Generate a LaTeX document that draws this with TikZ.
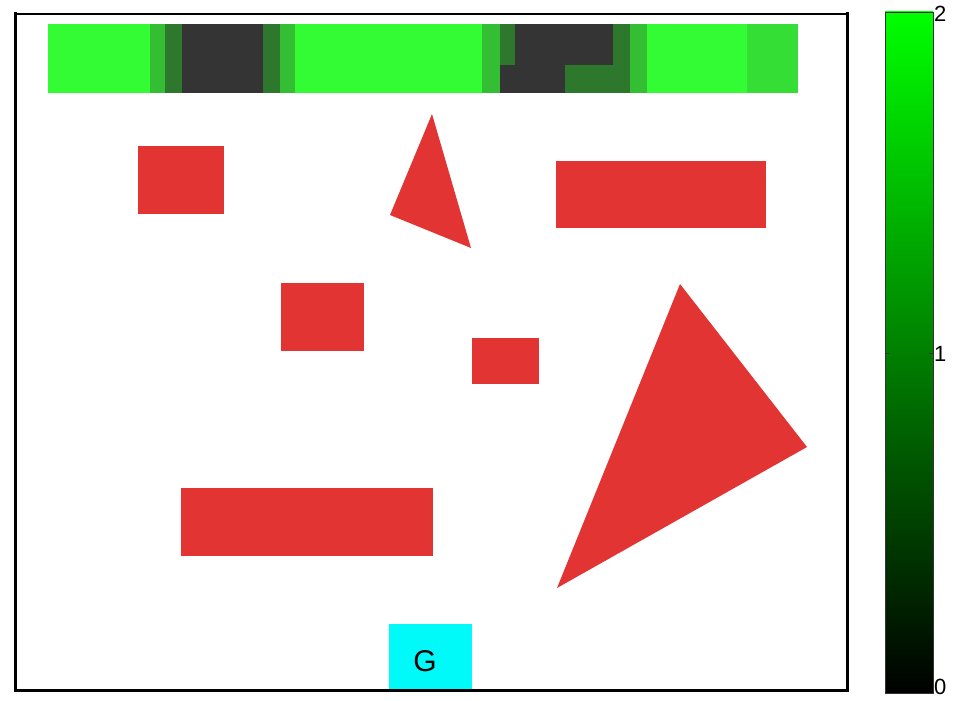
\documentclass[tikz,border=0pt]{standalone}
\usepackage{fontspec}
\setmainfont{Liberation Sans}
\usepackage{xcolor}
\usepackage{tikz}

\definecolor{obsred}{RGB}{227,52,52}
\definecolor{cellhi}{RGB}{52,252,52}
\definecolor{cellhb}{RGB}{52,222,52}
\definecolor{cellmid}{RGB}{52,190,52}
\definecolor{celllo}{RGB}{46,120,46}
\definecolor{cellnil}{RGB}{52,52,52}
\definecolor{goalcyan}{RGB}{0,250,250}

\begin{document}
\begin{tikzpicture}[x=1pt, y=-1pt, every node/.style={font=\fontsize{22}{25}\selectfont}]
    \useasboundingbox (0,0) rectangle (961,701);
    \fill[white] (0,0) rectangle (961,701);
    % heat row along the top
    \foreach \xa/\xb/\c in {48/150/cellhi, 150/165/cellmid, 165/182/celllo, 182/263/cellnil,
      263/280/celllo, 280/295/cellmid, 295/482/cellhi, 482/500/cellmid, 630/647/cellmid,
      647/747/cellhi, 747/798/cellhb}{
      \fill[\c] (\xa,24) rectangle (\xb,93);
    }
    \foreach \xa/\xb/\c in {500/515/celllo, 515/613/cellnil, 613/630/celllo}{
      \fill[\c] (\xa,24) rectangle (\xb,65);
    }
    \foreach \xa/\xb/\c in {500/565/cellnil, 565/630/celllo}{
      \fill[\c] (\xa,65) rectangle (\xb,93);
    }
    % obstacles
    \foreach \xa/\ya/\xb/\yb in {138/146/224/214, 556/161/766/228, 281/283/364/351,
      472/338/539/384, 181/488/433/556}{
      \fill[obsred] (\xa,\ya) rectangle (\xb,\yb);
    }
    \fill[obsred] (432,114) -- (390,215) -- (471,248) -- cycle;
    \fill[obsred] (680,284) -- (807,447) -- (557,588) -- cycle;
    % goal
    \fill[goalcyan] (389,624) rectangle (472,690);
    \node[font=\fontsize{30}{34}\selectfont] (goal) at (425,661) {G};
    % frame
    \draw[line width=1.5pt] (15,14) -- (848,14);
    \draw[line width=3pt] (15.5,12) -- (15.5,692);
    \draw[line width=3pt] (14,690.5) -- (849,690.5);
    \draw[line width=3pt] (847,12) -- (847,692);
    % colour bar
    \shade[bottom color=black, top color={rgb,255:red,0;green,255;blue,0}] (885,12) rectangle (933,693);
    \draw[line width=0.8pt, black!80] (885,12) rectangle (933,693);
    \draw[line width=0.8pt, black!80] (885,353) -- (889,353) (929,353) -- (933,353);
    \node[anchor=west, inner sep=0pt] (ctop) at (934,14) {2};
    \node[anchor=west, inner sep=0pt] (cmid) at (934,354) {1};
    \node[anchor=south west, inner sep=0pt] (cbot) at (934,695) {0};
  \end{tikzpicture}
\end{document}
